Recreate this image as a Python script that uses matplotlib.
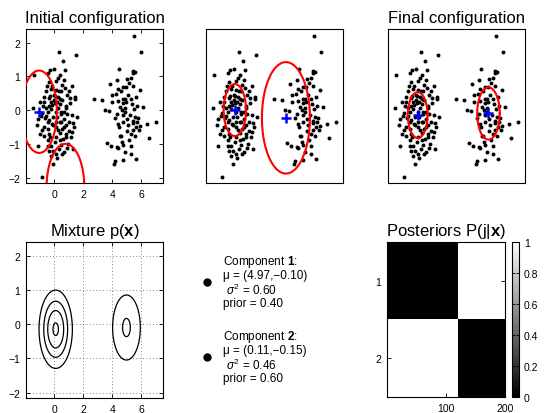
import numpy as np
import matplotlib
matplotlib.use("Agg")
import matplotlib.pyplot as plt
from matplotlib.lines import Line2D

plt.rcParams["font.family"] = ["Liberation Sans", "DejaVu Sans"]
plt.rcParams["mathtext.fontset"] = "custom"
plt.rcParams["mathtext.rm"] = "Liberation Sans"
plt.rcParams["mathtext.it"] = "Liberation Sans:italic"
plt.rcParams["mathtext.bf"] = "Liberation Sans:bold"

# ---------------------------------------------------------------------------
# data
# ---------------------------------------------------------------------------
# left cluster (120 points)
left_x = [0.34, 1.47, 0.61, 0.73, -0.02, -1.41, -0.45, 0.27, -0.34, 0.52,
          -0.11, 1.00, -0.57, 0.34, -0.27, 0.07, 1.43, 1.43, 1.11, 0.41,
          0.00, -0.68, -0.23, 0.18, -1.47, -0.79, -0.34, 0.41, 0.79, -0.23,
          -0.45, 0.11, 0.45, 0.91, 1.25, -0.91, -0.57, -0.05, -1.13, 1.59,
          0.68, -0.45, 0.41, 1.32, -0.11, 0.79, -1.18, -0.68, 0.11, 0.57,
          1.02, -0.95, -0.34, 0.41, 1.25, -0.68, 0.11, 0.79, 1.18, -0.45,
          0.41, -0.18, 0.45, 0.91, 1.32, -0.34, 0.11, 0.68, 0.23, -0.23,
          -0.86, -1.13, 0.25, -0.10, 0.55, -0.35, 0.05, 0.70, -0.60, 0.30,
          0.90, -0.20, 0.15, 0.60, -0.50, 0.45, 1.05, -0.80, 0.20, -0.15,
          0.80, 0.35, -0.40, 1.10, 0.00, -0.70, 0.50, -0.25, 0.65, 0.95,
          -0.05, 0.40, -1.00, 0.75, 0.10, -0.45, 1.35, 0.25, -0.30, 0.55,
          -0.85, 0.85, -0.10, 0.15, -0.55, 0.45, 1.20, -0.35, 0.05, 0.70]
left_y = [1.73, 1.63, 1.46, 1.19, 1.21, 1.04, 1.09, 0.96, 0.84, 0.75,
          0.70, 0.55, 0.57, 0.57, 0.42, 0.42, 0.40, 0.34, 0.35, 0.34,
          0.29, 0.23, 0.25, 0.23, 0.05, 0.11, 0.11, 0.18, 0.13, 0.03,
          -0.05, -0.07, -0.12, -0.12, -0.14, -0.17, -0.19, -0.22, -0.27, -0.22,
          -0.27, -0.34, -0.34, -0.38, -0.41, -0.44, -0.44, -0.51, -0.51, -0.56,
          -0.61, -0.71, -0.71, -0.68, -0.66, -0.78, -0.79, -0.81, -0.81, -0.90,
          -0.90, -1.05, -1.02, -1.13, -1.15, -1.20, -1.30, -1.25, -1.43, -1.35,
          -1.99, -1.05, 0.05, -0.45, 0.30, 0.35, -0.95, -0.05, -0.25, -0.60,
          0.45, 0.62, 0.85, -0.85, 0.70, 0.55, -0.35, -0.60, -0.20, 0.15,
          -0.70, -1.15, -1.05, 0.20, 0.45, 0.40, -0.35, -0.80, 0.90, -1.00,
          -1.60, 1.05, 0.25, 0.65, -0.35, -0.55, -0.50, 0.40, 1.20, -1.30,
          -0.10, 0.05, -1.20, 0.60, 0.05, -0.05, 0.70, -0.30, 0.20, -0.50]

# right cluster (80 points)
right_x = [5.49, 5.96, 4.47, 5.44, 5.40, 5.56, 4.99, 5.28, 3.85, 4.72,
           4.42, 5.90, 4.94, 4.26, 2.72, 3.29, 4.72, 4.90, 5.28, 4.40,
           4.01, 4.76, 5.35, 5.67, 4.54, 3.49, 3.76, 4.65, 4.90, 4.35,
           4.20, 5.56, 4.99, 5.44, 4.76, 5.40, 5.67, 6.35, 6.98, 5.90,
           4.42, 5.62, 5.44, 4.99, 6.53, 4.54, 3.63, 3.90, 5.56, 5.12,
           4.76, 4.35, 4.88, 4.20, 4.13, 4.76, 5.62, 4.38, 5.26, 4.58,
           5.10, 4.85, 5.20, 5.05, 4.60, 5.50, 4.95, 5.30, 4.70, 5.75,
           5.15, 4.45, 5.60, 4.30, 5.85, 3.95, 6.10, 5.25, 4.65, 5.45]
right_y = [2.18, 1.73, 1.23, 1.16, 1.09, 1.13, 0.93, 0.94, 0.76, 0.68,
           0.62, 0.60, 0.69, 0.49, 0.33, 0.30, 0.32, 0.34, 0.32, 0.28,
           0.23, 0.21, 0.17, 0.11, 0.10, -0.01, -0.04, 0.01, -0.07, -0.12,
           -0.23, -0.22, -0.27, -0.31, -0.34, -0.38, -0.36, -0.40, -0.34, -0.46,
           -0.41, -0.51, -0.59, -0.61, -0.82, -0.78, -0.97, -1.05, -0.76, -0.90,
           -1.02, -1.10, -1.25, -1.51, -1.61, -1.47, -1.45, -1.13, -1.05, -0.76,
           0.45, 0.05, -0.15, -0.45, 0.55, 0.02, 0.25, -0.70, -0.15, -0.25,
           0.80, -0.50, 0.40, 0.90, -0.60, 0.45, 0.10, -1.30, -0.95, 0.70]

data_x = np.array(left_x + right_x)
data_y = np.array(left_y + right_y)

# component centres / radii for each stage: (mu_x, mu_y, sigma)
initial_comps = [(-1.03, -0.05, 1.22), (0.78, -2.30, 1.30)]
middle_comps = [(0.05, 0.00, 0.77), (3.56, -0.23, 1.65)]

final_mu = [(4.97, -0.10), (0.11, -0.15)]
final_var = [0.60, 0.46]
final_prior = [0.40, 0.60]

# posteriors: points sorted left cluster first
post_comp1 = np.array([0.0] * len(left_x) + [1.0] * len(right_x))
posteriors = np.vstack([post_comp1, 1.0 - post_comp1])

contour_levels = [0.05, 0.10, 0.15, 0.20]

XLIM = (-1.93, 7.48)
YLIM = (-2.16, 2.40)

W, H = 544, 414


def box(px_left, px_top, px_right, px_bottom):
    return [px_left / W, 1 - px_bottom / H, (px_right - px_left) / W,
            (px_bottom - px_top) / H]


def style_axes(ax, ticks=True):
    for s in ax.spines.values():
        s.set_linewidth(0.8)
    if ticks:
        ax.tick_params(direction="in", length=3, width=0.6, labelsize=7.5,
                       top=True, right=True, pad=4)
    else:
        ax.set_xticks([])
        ax.set_yticks([])


def draw_stage(ax, comps):
    ax.scatter(data_x, data_y, s=8, c="k", linewidths=0, zorder=2)
    t = np.linspace(0, 2 * np.pi, 200)
    for (mx, my, r) in comps:
        ax.plot(mx + r * np.cos(t), my + r * np.sin(t), color="#ff0000",
                lw=1.5, zorder=3)
        ax.plot(mx, my, "+", color="#0000ff", ms=7, mew=1.8, zorder=4)
    ax.set_xlim(*XLIM)
    ax.set_ylim(*YLIM)


fig = plt.figure(figsize=(W / 100, H / 100), dpi=100)

# initial
ax1 = fig.add_axes(box(26, 30, 163, 184))
draw_stage(ax1, initial_comps)
ax1.set_xticks([0, 2, 4, 6])
ax1.set_yticks([-2, -1, 0, 1, 2])
style_axes(ax1)
ax1.set_title("Initial configuration", fontsize=12, pad=5)

# intermediate
ax2 = fig.add_axes(box(206, 30, 343, 184))
draw_stage(ax2, middle_comps)
style_axes(ax2, ticks=False)

# final
ax3 = fig.add_axes(box(388, 30, 525, 184))
final_comps = [(m[0], m[1], np.sqrt(v)) for m, v in zip(final_mu, final_var)]
draw_stage(ax3, final_comps)
style_axes(ax3, ticks=False)
ax3.set_title("Final configuration", fontsize=12, pad=5)

# mixture contours
ax4 = fig.add_axes(box(26, 243, 163, 399))
gx = np.linspace(XLIM[0], XLIM[1], 400)
gy = np.linspace(YLIM[0], YLIM[1], 400)
GX, GY = np.meshgrid(gx, gy)
dens = np.zeros_like(GX)
for (mx, my), v, p in zip(final_mu, final_var, final_prior):
    dens += p / (2 * np.pi * v) * np.exp(-((GX - mx) ** 2 + (GY - my) ** 2) / (2 * v))
ax4.contour(GX, GY, dens, levels=contour_levels, colors="k", linewidths=0.9)
ax4.set_xlim(*XLIM)
ax4.set_ylim(*YLIM)
ax4.set_xticks([0, 2, 4, 6])
ax4.set_yticks([-2, -1, 0, 1, 2])
ax4.grid(True, linestyle=(0, (1, 3)), color="0.35", linewidth=0.6)
style_axes(ax4)
ax4.set_title(r"Mixture p($\mathbf{x}$)", fontsize=12, pad=5)

# component text
text_lines = []
for k, ((mx, my), v, p) in enumerate(zip(final_mu, final_var, final_prior)):
    text_lines.append([
        r"Component $\mathbf{%d}$:" % (k + 1),
        "\u03bc = (%.2f,\u2212%.2f)" % (mx, abs(my)),
        r" $\sigma^2$ = %.2f" % v,
        "prior = %.2f" % p,
    ])
block_tops = [262, 337]
for lines, top in zip(text_lines, block_tops):
    fig.add_artist(Line2D([207 / W], [1 - (top + 21) / H], marker="o", ms=5,
                          color="k", linestyle="none",
                          transform=fig.transFigure))
    for i, line in enumerate(lines):
        fig.text(223 / W, 1 - (top + 14 * i) / H, line, fontsize=8.5,
                 ha="left", va="center")

# posteriors
ax6 = fig.add_axes(box(387, 243, 505, 398))
im = ax6.imshow(posteriors, cmap="gray", vmin=0, vmax=1, aspect="auto",
                interpolation="nearest",
                extent=(0.5, posteriors.shape[1] + 0.5, 2.5, 0.5))
ax6.set_xticks([100, 200])
ax6.set_yticks([1, 2])
style_axes(ax6)
ax6.set_title(r"Posteriors P(j|$\mathbf{x}$)", fontsize=12, pad=5)

cax = fig.add_axes(box(512, 243, 519, 398))
cb = fig.colorbar(im, cax=cax)
cb.set_ticks([0, 0.2, 0.4, 0.6, 0.8, 1])
cb.set_ticklabels(["0", "0.2", "0.4", "0.6", "0.8", "1"])
cb.outline.set_linewidth(0.8)
cax.tick_params(direction="in", length=2.5, width=0.6, labelsize=7.5,
                left=True, right=True)

fig.savefig("out.png", dpi=100)
